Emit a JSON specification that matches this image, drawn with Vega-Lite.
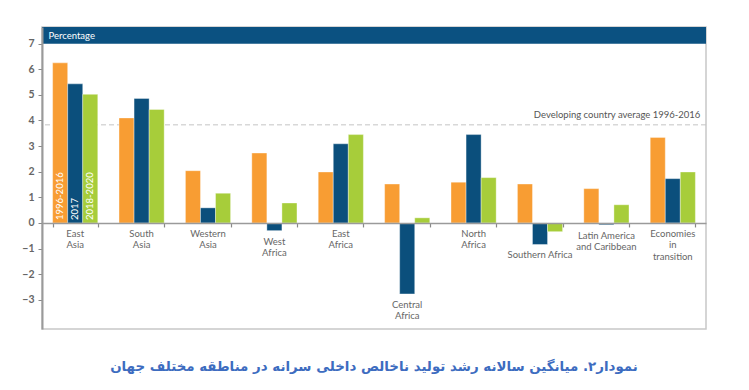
{
  "$schema": "https://vega.github.io/schema/vega-lite/v6.json",
  "autosize": {"type": "none"},
  "padding": {"left": 42, "top": 27, "right": 43, "bottom": 61},
  "width": 664,
  "height": 302,
  "background": "white",
  "title": {
    "text": "نمودار۲. میانگین سالانه رشد تولید ناخالص داخلی سرانه در مناطقه مختلف جهان",
    "orient": "bottom",
    "anchor": "middle",
    "font": "DejaVu Sans",
    "fontSize": 13.4,
    "fontWeight": "bold",
    "color": "#3D6CC0",
    "offset": 31
  },
  "config": {
    "view": {"stroke": "#c8c8c8", "strokeWidth": 1.5},
    "font": "Lato"
  },
  "datasets": {
    "gdp": [
      {"region": "East\nAsia", "series": "1996-2016", "value": 6.25},
      {"region": "East\nAsia", "series": "2017", "value": 5.43},
      {"region": "East\nAsia", "series": "2018-2020", "value": 5.02},
      {"region": "South\nAsia", "series": "1996-2016", "value": 4.10},
      {"region": "South\nAsia", "series": "2017", "value": 4.86},
      {"region": "South\nAsia", "series": "2018-2020", "value": 4.43},
      {"region": "Western\nAsia", "series": "1996-2016", "value": 2.04},
      {"region": "Western\nAsia", "series": "2017", "value": 0.59},
      {"region": "Western\nAsia", "series": "2018-2020", "value": 1.16},
      {"region": "West\nAfrica", "series": "1996-2016", "value": 2.73},
      {"region": "West\nAfrica", "series": "2017", "value": -0.30},
      {"region": "West\nAfrica", "series": "2018-2020", "value": 0.78},
      {"region": "East\nAfrica", "series": "1996-2016", "value": 1.99},
      {"region": "East\nAfrica", "series": "2017", "value": 3.09},
      {"region": "East\nAfrica", "series": "2018-2020", "value": 3.45},
      {"region": "Central\nAfrica", "series": "1996-2016", "value": 1.52},
      {"region": "Central\nAfrica", "series": "2017", "value": -2.77},
      {"region": "Central\nAfrica", "series": "2018-2020", "value": 0.20},
      {"region": "North\nAfrica", "series": "1996-2016", "value": 1.59},
      {"region": "North\nAfrica", "series": "2017", "value": 3.45},
      {"region": "North\nAfrica", "series": "2018-2020", "value": 1.77},
      {"region": "Southern Africa", "series": "1996-2016", "value": 1.52},
      {"region": "Southern Africa", "series": "2017", "value": -0.84},
      {"region": "Southern Africa", "series": "2018-2020", "value": -0.34},
      {"region": "Latin America\nand Caribbean", "series": "1996-2016", "value": 1.34},
      {"region": "Latin America\nand Caribbean", "series": "2017", "value": -0.07},
      {"region": "Latin America\nand Caribbean", "series": "2018-2020", "value": 0.71},
      {"region": "Economies\nin\ntransition", "series": "1996-2016", "value": 3.34},
      {"region": "Economies\nin\ntransition", "series": "2017", "value": 1.73},
      {"region": "Economies\nin\ntransition", "series": "2018-2020", "value": 1.99}
    ],
    "single": [{}]
  },
  "data": {"name": "gdp"},
  "encoding": {
    "x": {
      "field": "region",
      "type": "nominal",
      "scale": {
        "domain": ["East\nAsia", "South\nAsia", "Western\nAsia", "West\nAfrica", "East\nAfrica", "Central\nAfrica", "North\nAfrica", "Southern Africa", "Latin America\nand Caribbean", "Economies\nin\ntransition"],
        "paddingInner": 0.32,
        "paddingOuter": 0.16
      },
      "axis": {
        "title": null,
        "labels": false,
        "domain": true,
        "domainColor": "#9a9a9a",
        "domainWidth": 1.5,
        "ticks": true,
        "tickBand": "extent",
        "tickSize": 4,
        "tickColor": "#888888",
        "tickWidth": 1.2,
        "offset": {"expr": "scale('y', 0) - height"},
        "zindex": 1
      }
    }
  },
  "layer": [
    {
      "data": {"name": "single"},
      "mark": {"type": "rect", "color": "#0B5181"},
      "encoding": {
        "x": null,
        "y": {
          "datum": 7,
          "type": "quantitative",
          "scale": {"domain": [-4.14, 7.65], "nice": false, "zero": false},
          "axis": {
            "title": "Percentage",
            "titleAngle": 0,
            "titleAlign": "left",
            "titleBaseline": "middle",
            "titleX": 6,
            "titleY": 8.4,
            "titleColor": "white",
            "titleFont": "Lato",
            "titleFontSize": 9.5,
            "titleFontWeight": "normal",
            "values": [-3, -2, -1, 0, 1, 2, 3, 4, 5, 6, 7],
            "tickCount": 12,
            "labelOverlap": false,
            "grid": false,
            "domainColor": "#9a9a9a",
            "domainWidth": 2,
            "tickColor": "#888888",
            "tickSize": 4,
            "labelPadding": 4,
            "labelColor": "#666666",
            "labelFontSize": 10.5,
            "labelFontWeight": "bold",
            "zindex": 1
          }
        },
        "y2": {"datum": 7.65}
      }
    },
    {
      "data": {"name": "single"},
      "mark": {"type": "rule", "color": "#c4c4c4", "strokeDash": [5, 3], "strokeWidth": 1},
      "encoding": {
        "x": null,
        "y": {"datum": 3.83, "type": "quantitative"}
      }
    },
    {
      "data": {"name": "single"},
      "mark": {"type": "text", "text": "Developing country average 1996-2016", "align": "right", "baseline": "middle", "fontSize": 9.5, "color": "#555555", "dx": 5},
      "encoding": {
        "x": {"datum": "Economies\nin\ntransition", "bandPosition": 1},
        "y": {"datum": 4.22, "type": "quantitative"}
      }
    },
    {
      "mark": {"type": "bar", "stroke": "white", "strokeWidth": 0.6, "strokeOpacity": 0.6},
      "encoding": {
        "xOffset": {"field": "series", "type": "nominal", "scale": {"paddingInner": 0, "paddingOuter": 0}},
        "y": {"field": "value", "type": "quantitative"},
        "color": {
          "field": "series",
          "type": "nominal",
          "scale": {"domain": ["1996-2016", "2017", "2018-2020"], "range": ["#F89D33", "#0B4F7C", "#A7CD3A"]},
          "legend": null
        }
      }
    },
    {
      "transform": [{"filter": "datum.region === 'East\\nAsia'"}],
      "mark": {"type": "text", "angle": 270, "align": "left", "baseline": "middle", "dx": 3, "color": "white", "fontSize": 9.5},
      "encoding": {
        "xOffset": {"field": "series", "type": "nominal"},
        "y": {"datum": 0, "type": "quantitative"},
        "text": {"field": "series"}
      }
    },
    {
      "transform": [
        {"aggregate": [{"op": "min", "field": "value", "as": "minv"}], "groupby": ["region"]},
        {"calculate": "min(0, datum.minv)", "as": "ly"}
      ],
      "mark": {"type": "text", "baseline": "top", "align": "center", "dy": 6, "lineBreak": "\n", "lineHeight": 11.5, "fontSize": 9.5, "color": "#666666"},
      "encoding": {
        "y": {"field": "ly", "type": "quantitative"},
        "text": {"field": "region"}
      }
    }
  ]
}
